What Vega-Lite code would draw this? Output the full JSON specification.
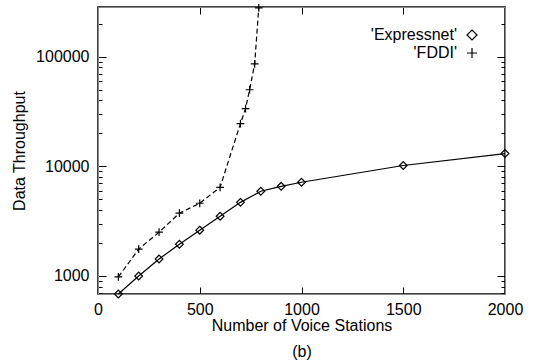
{
  "$schema": "https://vega.github.io/schema/vega-lite/v6.json",
  "width": 407,
  "height": 287,
  "autosize": "none",
  "padding": {"left": 98, "top": 7, "right": 35, "bottom": 68},
  "background": "white",
  "config": {"view": {"stroke": "black", "strokeWidth": 1.5}, "font": "Liberation Sans"},
  "data": {"values": [
    {"series": "Expressnet", "stations": 100, "throughput": 685},
    {"series": "Expressnet", "stations": 200, "throughput": 1000},
    {"series": "Expressnet", "stations": 300, "throughput": 1430},
    {"series": "Expressnet", "stations": 400, "throughput": 1950},
    {"series": "Expressnet", "stations": 500, "throughput": 2620},
    {"series": "Expressnet", "stations": 600, "throughput": 3510},
    {"series": "Expressnet", "stations": 700, "throughput": 4700},
    {"series": "Expressnet", "stations": 800, "throughput": 5930},
    {"series": "Expressnet", "stations": 900, "throughput": 6580},
    {"series": "Expressnet", "stations": 1000, "throughput": 7170},
    {"series": "Expressnet", "stations": 1500, "throughput": 10200},
    {"series": "Expressnet", "stations": 2000, "throughput": 13100},
    {"series": "FDDI", "stations": 100, "throughput": 980},
    {"series": "FDDI", "stations": 200, "throughput": 1760},
    {"series": "FDDI", "stations": 300, "throughput": 2510},
    {"series": "FDDI", "stations": 400, "throughput": 3740},
    {"series": "FDDI", "stations": 500, "throughput": 4610},
    {"series": "FDDI", "stations": 600, "throughput": 6450},
    {"series": "FDDI", "stations": 700, "throughput": 24600},
    {"series": "FDDI", "stations": 725, "throughput": 33700},
    {"series": "FDDI", "stations": 745, "throughput": 50100},
    {"series": "FDDI", "stations": 770, "throughput": 86300},
    {"series": "FDDI", "stations": 790, "throughput": 280000}
  ]},
  "layer": [
    {
      "transform": [{"filter": "datum.series === 'Expressnet'"}],
      "mark": {"type": "line", "color": "black", "strokeWidth": 1.2},
      "encoding": {
        "x": {"field": "stations", "type": "quantitative", "scale": {"domain": [0, 2000], "nice": false},
              "axis": {"orient": "bottom", "values": [0, 500, 1000, 1500, 2000], "format": "d", "grid": false,
                       "tickColor": "black", "tickWidth": 1, "tickSize": -7,
                       "labelPadding": 14, "labelFlush": false, "labelFont": "Liberation Sans", "labelFontSize": 16, "labelColor": "black",
                       "title": ["Number of Voice Stations", "(b)"], "titleLineHeight": 26, "titlePadding": 0, "titleFont": "Liberation Sans", "titleFontSize": 16, "titleFontWeight": "normal", "titleColor": "black"}},
        "y": {"field": "throughput", "type": "quantitative", "scale": {"type": "log", "domain": [685, 285000], "nice": false},
              "axis": {"orient": "left", "values": [1000, 10000, 100000], "format": "d", "grid": false,
                       "tickColor": "black", "tickWidth": 1, "tickSize": -8,
                       "labelPadding": 17, "labelFont": "Liberation Sans", "labelFontSize": 16, "labelColor": "black",
                       "title": "Data Throughput", "titlePadding": 8, "titleFont": "Liberation Sans", "titleFontSize": 16, "titleFontWeight": "normal", "titleColor": "black"}}
      }
    },
    {
      "transform": [{"filter": "datum.series === 'FDDI'"}],
      "mark": {"type": "line", "color": "black", "strokeWidth": 1.2, "strokeDash": [5, 3]},
      "encoding": {
        "x": {"field": "stations", "type": "quantitative", "scale": {"domain": [0, 2000], "nice": false},
              "axis": {"orient": "top", "values": [0, 500, 1000, 1500, 2000], "grid": false, "labels": false, "title": null,
                       "tickColor": "black", "tickWidth": 1, "tickSize": -7}},
        "y": {"field": "throughput", "type": "quantitative", "scale": {"type": "log", "domain": [685, 285000], "nice": false},
              "axis": {"orient": "right", "values": [1000, 10000, 100000], "grid": false, "labels": false, "title": null,
                       "tickColor": "black", "tickWidth": 1, "tickSize": -8}}
      }
    },
    {
      "transform": [{"filter": "datum.series === 'Expressnet'"}],
      "mark": {"type": "point", "filled": false, "color": "black", "strokeWidth": 1.2, "size": 60, "opacity": 1},
      "encoding": {
        "x": {"field": "stations", "type": "quantitative", "scale": {"domain": [0, 2000], "nice": false}, "axis": null},
        "y": {"field": "throughput", "type": "quantitative", "scale": {"type": "log", "domain": [685, 285000], "nice": false},
              "axis": {"orient": "left", "values": [700, 800, 900, 2000, 3000, 4000, 5000, 6000, 7000, 8000, 9000, 20000, 30000, 40000, 50000, 60000, 70000, 80000, 90000, 200000],
                       "grid": false, "labels": false, "title": null, "tickColor": "black", "tickWidth": 1, "tickSize": -4}},
        "shape": {"field": "series", "type": "nominal",
                  "scale": {"domain": ["Expressnet", "FDDI"], "range": ["M0,-1L1,0L0,1L-1,0Z", "M-1,0H1M0,-1V1"]},
                  "legend": {"orient": "none", "legendX": 366, "legendY": 20, "title": null, "padding": 0,
                             "labelExpr": "\"'\" + datum.label + \"'\"",
                             "labelAlign": "right", "labelOffset": -23, "labelFontSize": 16, "labelFont": "Liberation Sans", "labelColor": "black",
                             "symbolSize": 100, "symbolStrokeColor": "black", "symbolStrokeWidth": 1.2, "symbolFillColor": "transparent"}}
      }
    },
    {
      "transform": [{"filter": "datum.series === 'FDDI'"}],
      "mark": {"type": "point", "filled": false, "color": "black", "strokeWidth": 1.2, "size": 60, "opacity": 1},
      "encoding": {
        "x": {"field": "stations", "type": "quantitative", "scale": {"domain": [0, 2000], "nice": false}, "axis": null},
        "y": {"field": "throughput", "type": "quantitative", "scale": {"type": "log", "domain": [685, 285000], "nice": false},
              "axis": {"orient": "right", "values": [700, 800, 900, 2000, 3000, 4000, 5000, 6000, 7000, 8000, 9000, 20000, 30000, 40000, 50000, 60000, 70000, 80000, 90000, 200000],
                       "grid": false, "labels": false, "title": null, "tickColor": "black", "tickWidth": 1, "tickSize": -4}},
        "shape": {"field": "series", "type": "nominal",
                  "scale": {"domain": ["Expressnet", "FDDI"], "range": ["M0,-1L1,0L0,1L-1,0Z", "M-1,0H1M0,-1V1"]}}
      }
    }
  ],
  "resolve": {"axis": {"x": "independent", "y": "independent"}}
}
